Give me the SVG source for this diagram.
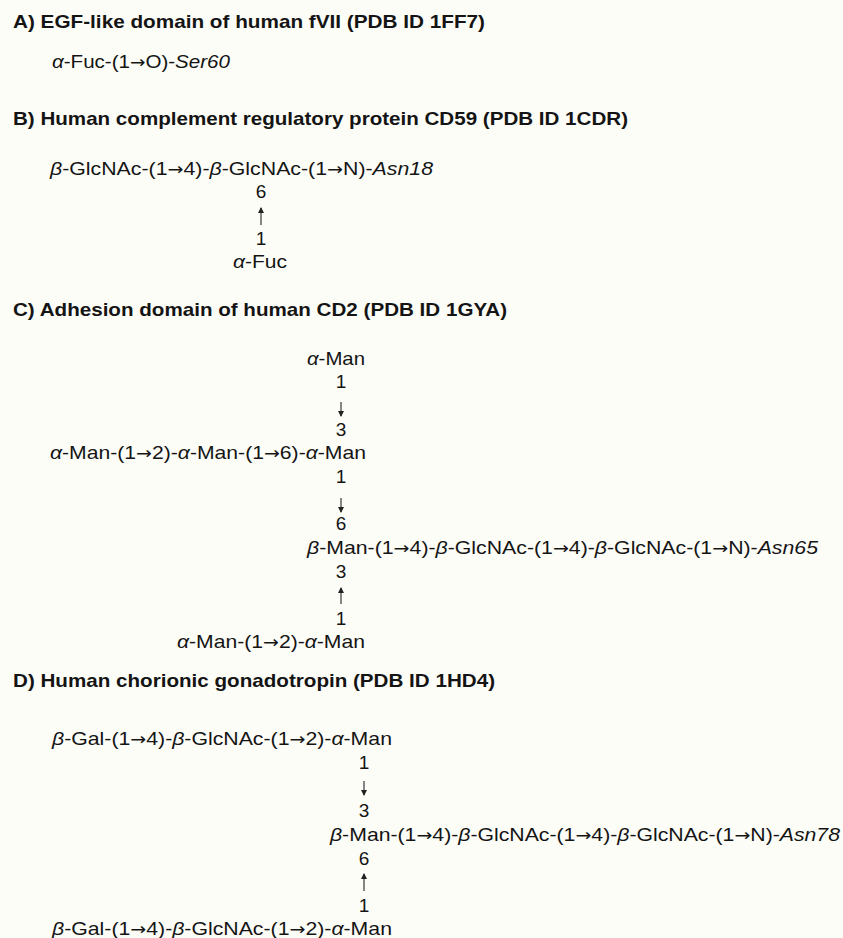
<svg xmlns="http://www.w3.org/2000/svg" width="843" height="938" viewBox="0 0 843 938">
<style>
  text { font-family: "Liberation Sans", Arial, sans-serif; font-size: 19px; fill: #141414; }
  .title { font-weight: bold; }
  .i { font-style: italic; }
  .ar { font-family: "DejaVu Sans", sans-serif; font-size: 17px; }
  .num { text-anchor: middle; }
  .link { stroke: #222; stroke-width: 1.1; fill: none; }
</style>
<defs>
  <marker id="ah" markerUnits="userSpaceOnUse" markerWidth="6" markerHeight="6" refX="5" refY="3" orient="auto">
    <path d="M0,0 L6,3 L0,6 Z" fill="#222"/>
  </marker>
</defs>
<rect width="843" height="938" fill="#fdfdf8"/>

<!-- A -->
<g id="titleA"><text class="title" x="13" y="28" textLength="472" lengthAdjust="spacingAndGlyphs">A) EGF-like domain of human fVII (PDB ID 1FF7)</text></g>
<g id="A-chain"><text x="52" y="68" textLength="178" lengthAdjust="spacingAndGlyphs"><tspan class="i">α</tspan>-Fuc-(1<tspan class="ar">→</tspan>O)-<tspan class="i">Ser60</tspan></text></g>

<!-- B -->
<g id="titleB"><text class="title" x="13" y="125" textLength="615" lengthAdjust="spacingAndGlyphs">B) Human complement regulatory protein CD59 (PDB ID 1CDR)</text></g>
<g id="B-chain"><text x="50" y="175" textLength="383" lengthAdjust="spacingAndGlyphs"><tspan class="i">β</tspan>-GlcNAc-(1<tspan class="ar">→</tspan>4)-<tspan class="i">β</tspan>-GlcNAc-(1<tspan class="ar">→</tspan>N)-<tspan class="i">Asn18</tspan></text></g>
<g id="B-pos6"><text class="num" x="261" y="198">6</text></g>
<g id="B-pos1"><text class="num" x="261" y="245">1</text></g>
<g id="B-fuc"><text x="233" y="268" textLength="54" lengthAdjust="spacingAndGlyphs"><tspan class="i">α</tspan>-Fuc</text></g>

<!-- C -->
<g id="titleC"><text class="title" x="13" y="316" textLength="494" lengthAdjust="spacingAndGlyphs">C) Adhesion domain of human CD2 (PDB ID 1GYA)</text></g>
<g id="C-man-top"><text x="307" y="365" textLength="58" lengthAdjust="spacingAndGlyphs"><tspan class="i">α</tspan>-Man</text></g>
<g id="C-pos1a"><text class="num" x="341" y="388">1</text></g>
<g id="C-pos3a"><text class="num" x="341" y="436">3</text></g>
<g id="C-arm6"><text x="50" y="459" textLength="316" lengthAdjust="spacingAndGlyphs"><tspan class="i">α</tspan>-Man-(1<tspan class="ar">→</tspan>2)-<tspan class="i">α</tspan>-Man-(1<tspan class="ar">→</tspan>6)-<tspan class="i">α</tspan>-Man</text></g>
<g id="C-pos1b"><text class="num" x="341" y="483">1</text></g>
<g id="C-pos6"><text class="num" x="341" y="530">6</text></g>
<g id="C-core"><text x="307" y="554" textLength="511" lengthAdjust="spacingAndGlyphs"><tspan class="i">β</tspan>-Man-(1<tspan class="ar">→</tspan>4)-<tspan class="i">β</tspan>-GlcNAc-(1<tspan class="ar">→</tspan>4)-<tspan class="i">β</tspan>-GlcNAc-(1<tspan class="ar">→</tspan>N)-<tspan class="i">Asn65</tspan></text></g>
<g id="C-pos3b"><text class="num" x="341" y="578">3</text></g>
<g id="C-pos1c"><text class="num" x="341" y="625">1</text></g>
<g id="C-arm3"><text x="177" y="648" textLength="188" lengthAdjust="spacingAndGlyphs"><tspan class="i">α</tspan>-Man-(1<tspan class="ar">→</tspan>2)-<tspan class="i">α</tspan>-Man</text></g>

<!-- D -->
<g id="titleD"><text class="title" x="13" y="687" textLength="482" lengthAdjust="spacingAndGlyphs">D) Human chorionic gonadotropin (PDB ID 1HD4)</text></g>
<g id="D-arm3"><text x="52" y="745" textLength="340" lengthAdjust="spacingAndGlyphs"><tspan class="i">β</tspan>-Gal-(1<tspan class="ar">→</tspan>4)-<tspan class="i">β</tspan>-GlcNAc-(1<tspan class="ar">→</tspan>2)-<tspan class="i">α</tspan>-Man</text></g>
<g id="D-pos1a"><text class="num" x="364" y="769">1</text></g>
<g id="D-pos3"><text class="num" x="364" y="817">3</text></g>
<g id="D-core"><text x="330" y="841" textLength="510" lengthAdjust="spacingAndGlyphs"><tspan class="i">β</tspan>-Man-(1<tspan class="ar">→</tspan>4)-<tspan class="i">β</tspan>-GlcNAc-(1<tspan class="ar">→</tspan>4)-<tspan class="i">β</tspan>-GlcNAc-(1<tspan class="ar">→</tspan>N)-<tspan class="i">Asn78</tspan></text></g>
<g id="D-pos6"><text class="num" x="364" y="865">6</text></g>
<g id="D-pos1b"><text class="num" x="364" y="912">1</text></g>
<g id="D-arm6"><text x="52" y="935" textLength="340" lengthAdjust="spacingAndGlyphs"><tspan class="i">β</tspan>-Gal-(1<tspan class="ar">→</tspan>4)-<tspan class="i">β</tspan>-GlcNAc-(1<tspan class="ar">→</tspan>2)-<tspan class="i">α</tspan>-Man</text></g>

<g id="connectors">
  <line class="link" x1="261" y1="225" x2="261" y2="208" marker-end="url(#ah)"/>
  <line class="link" x1="341" y1="402" x2="341" y2="416" marker-end="url(#ah)"/>
  <line class="link" x1="341" y1="498" x2="341" y2="512" marker-end="url(#ah)"/>
  <line class="link" x1="341" y1="604" x2="341" y2="588" marker-end="url(#ah)"/>
  <line class="link" x1="364" y1="781" x2="364" y2="795" marker-end="url(#ah)"/>
  <line class="link" x1="364" y1="891" x2="364" y2="874" marker-end="url(#ah)"/>
</g>
</svg>
